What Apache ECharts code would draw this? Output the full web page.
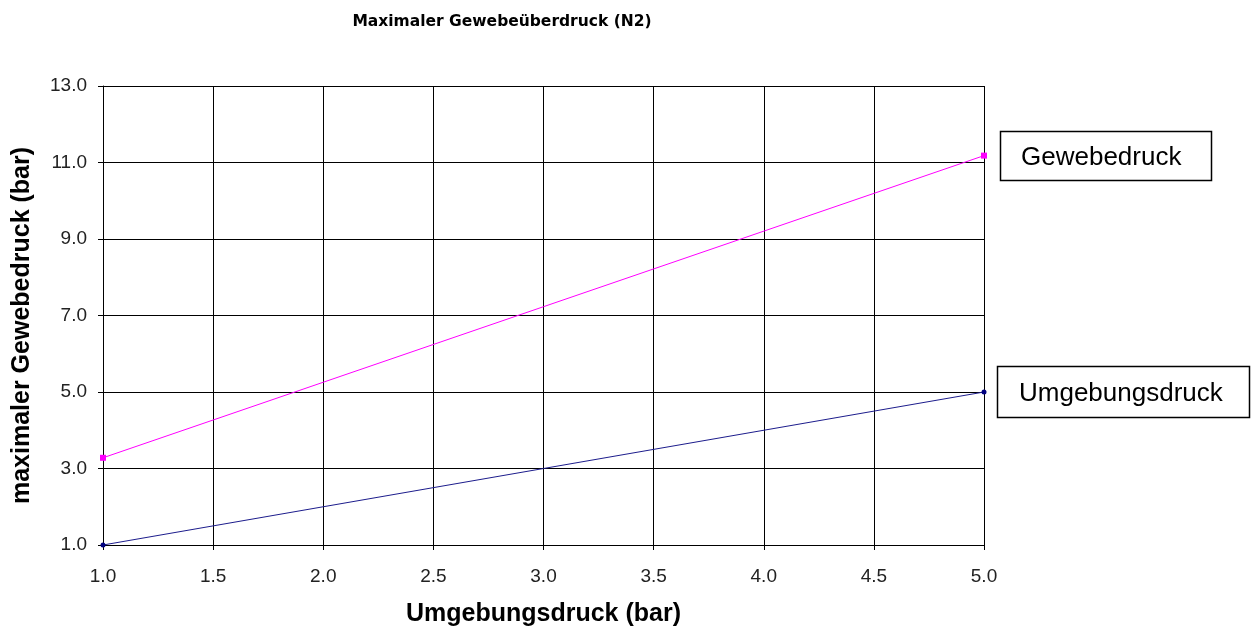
<!DOCTYPE html>
<html><head><meta charset="utf-8">
<script src="https://cdn.jsdelivr.net/npm/echarts@6/dist/echarts.min.js"></script>
<style>html,body{margin:0;padding:0;background:#fff}#c{width:1252px;height:630px}</style>
</head><body><div id="c"></div>
<script>
const umgebungsdruck = [1.0, 5.0];
const gewebedruck = [3.28, 11.18];
const umgebungLine = [1.0, 5.0];
const seriesNames = ['Gewebedruck', 'Umgebungsdruck'];
const titleText = 'Maximaler Gewebeüberdruck (N2)';
const xName = 'Umgebungsdruck (bar)';
const yName = 'maximaler Gewebedruck (bar)';

const chart = echarts.init(document.getElementById('c'));
chart.setOption({
  animation: false,
  backgroundColor: '#fff',
  title: {
    text: titleText, left: 497, top: 9, textAlign: 'center',
    textStyle: {fontFamily: 'DejaVu Sans', fontWeight: 'bold', fontSize: 15.5, color: '#000'}
  },
  grid: {left: 103, right: 268, top: 86, bottom: 85, containLabel: false, outerBoundsMode: 'none'},
  xAxis: {
    type: 'value', min: 1, max: 5, interval: 0.5,
    name: xName, nameLocation: 'middle', nameGap: 57,
    nameTextStyle: {fontFamily: 'Liberation Sans', fontWeight: 'bold', fontSize: 25, color: '#000'},
    axisLine: {show: true, lineStyle: {color: '#000', width: 1}},
    axisTick: {show: true, length: 5, lineStyle: {color: '#000'}},
    axisLabel: {fontFamily: 'Liberation Sans', fontSize: 19, color: '#222', margin: 22, formatter: v => v.toFixed(1)},
    splitLine: {show: true, lineStyle: {color: '#000', width: 1}}
  },
  yAxis: {
    type: 'value', min: 1, max: 13, interval: 2,
    name: yName, nameLocation: 'middle', nameGap: 68, nameRotate: 90,
    nameTextStyle: {fontFamily: 'Liberation Sans', fontWeight: 'bold', fontSize: 25, color: '#000', padding: [0, 20, 0, 0]},
    axisLine: {show: true, lineStyle: {color: '#000', width: 1}},
    axisTick: {show: true, length: 5, lineStyle: {color: '#000'}},
    axisLabel: {fontFamily: 'Liberation Sans', fontSize: 19, color: '#222', margin: 16, formatter: v => v.toFixed(1)},
    splitLine: {show: true, lineStyle: {color: '#000', width: 1}}
  },
  series: [
    {
      name: seriesNames[0], type: 'line',
      data: umgebungsdruck.map((x, i) => [x, gewebedruck[i]]),
      symbol: 'rect', symbolSize: 6,
      lineStyle: {color: '#ff00ff', width: 1},
      itemStyle: {color: '#ff00ff'},
      z: 5
    },
    {
      name: seriesNames[1], type: 'line',
      data: umgebungsdruck.map((x, i) => [x, umgebungLine[i]]),
      symbol: 'circle', symbolSize: 5,
      lineStyle: {color: '#1c1c8c', width: 1},
      itemStyle: {color: '#000080'},
      z: 5
    }
  ],
  graphic: [
    {type: 'rect', shape: {x: 1000.5, y: 131.5, width: 211, height: 49}, style: {fill: '#fff', stroke: '#000', lineWidth: 1.5}},
    {type: 'text', left: 1021, top: 145, style: {text: seriesNames[0], font: '26px "Liberation Sans"', fill: '#000'}},
    {type: 'rect', shape: {x: 997.5, y: 366.5, width: 252, height: 51}, style: {fill: '#fff', stroke: '#000', lineWidth: 1.5}},
    {type: 'text', left: 1019, top: 381, style: {text: seriesNames[1], font: '26px "Liberation Sans"', fill: '#000'}}
  ]
});
</script></body></html>
